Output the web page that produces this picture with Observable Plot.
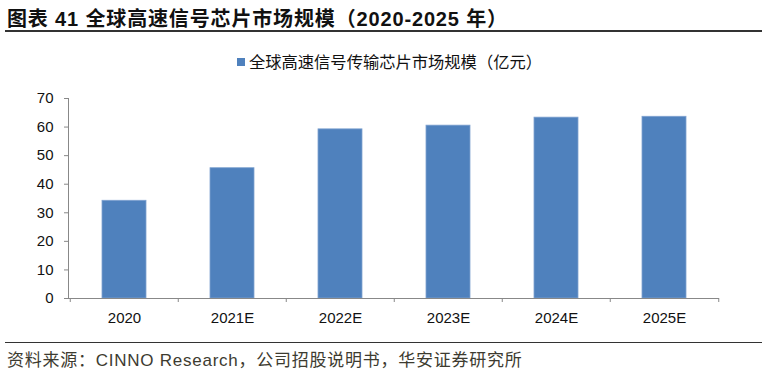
<!DOCTYPE html>
<html><head><meta charset="utf-8">
<script src="https://cdn.jsdelivr.net/npm/d3@7"></script>
<script src="https://cdn.jsdelivr.net/npm/@observablehq/plot@0.6"></script>
<style>
body{margin:0;background:#fff;width:767px;height:375px;position:relative;overflow:hidden;font-family:"Liberation Sans","Noto Sans CJK SC",sans-serif;}
#title{position:absolute;left:7px;top:3px;font-family:"Liberation Sans","Noto Sans CJK SC",sans-serif;font-weight:bold;font-size:20px;letter-spacing:0.85px;color:#111;white-space:nowrap;}
#tline{position:absolute;left:5px;top:30px;width:757px;height:0;border-top:2px solid #333;}
#legend{position:absolute;left:6px;width:767px;top:49px;text-align:center;font-size:16.3px;color:#111;font-family:"Liberation Sans","Noto Sans CJK SC",sans-serif;white-space:nowrap;}
#legend span.sw{display:inline-block;width:8px;height:8px;background:#4F81BD;margin-right:4px;vertical-align:2px;}
#chart{position:absolute;left:0;top:80px;}
#fline{position:absolute;left:5px;top:342px;width:757px;height:0;border-top:1.5px solid #333;}
#caption{position:absolute;left:7px;top:346px;font-size:17px;letter-spacing:0.75px;color:#3d3b30;white-space:nowrap;font-family:"Liberation Sans","Noto Sans CJK SC",sans-serif;}
</style></head>
<body>
<div id="title">图表 41 全球高速信号芯片市场规模（2020-2025 年）</div>
<div id="tline"></div>
<div id="legend"><span class="sw"></span>全球高速信号传输芯片市场规模（亿元）</div>
<div id="chart"></div>
<div id="fline"></div>
<div id="caption">资料来源：CINNO Research，公司招股说明书，华安证券研究所</div>
<script>
const years = ["2020","2021E","2022E","2023E","2024E","2025E"];
const values = [34.2, 45.6, 59.2, 60.5, 63.3, 63.6];
const yTicks = [0,10,20,30,40,50,60,70];

const data = years.map((y,i)=>({year:y, value:values[i]}));

// axis lines and between-category ticks, positioned via the plot's own scales
function axisLines(index, scales, vals, dims) {
  const x = scales.x, y = scales.y;
  const n = years.length;
  const left = dims.marginLeft, right = dims.width - dims.marginRight;
  const step = (right - left) / n;
  const g = d3.create("svg:g").attr("stroke", "#888").attr("stroke-width", 1).attr("fill", "none");
  const y0 = y(0), yTop = y(70);
  g.append("line").attr("x1", left + 0.5).attr("x2", left + 0.5).attr("y1", yTop).attr("y2", y0);
  g.append("line").attr("x1", left).attr("x2", right).attr("y1", y0 + 0.5).attr("y2", y0 + 0.5);
  const edges = years.map(c => x(c) + x.bandwidth()/2 - step/2);
  edges.push(x(years[n-1]) + x.bandwidth()/2 + step/2);
  for (const e of edges) {
    g.append("line").attr("x1", e + 0.5).attr("x2", e + 0.5).attr("y1", y0).attr("y2", y0 + 4);
  }
  return g.node();
}

const plot = Plot.plot({
  width: 767,
  height: 260,
  marginLeft: 68,
  marginRight: 48,
  marginTop: 18,
  marginBottom: 42,
  style: {fontFamily: '"Liberation Sans", Arial, sans-serif', fontSize: "15px", color: "#111", background: "#fff"},
  x: {domain: years, paddingInner: 0.595, paddingOuter: 0.2975, label: null},
  y: {domain: [0, 70], label: null},
  marks: [
    Plot.barY(data, {x: "year", y: "value", fill: "#4F81BD", stroke: "#7FA2D0", strokeWidth: 0.8}),
    Plot.axisY({ticks: yTicks, tickSize: 4, tickPadding: 11, stroke: "#888", fontSize: 15, fill: "#111"}),
    Plot.axisX({tickSize: 0, tickPadding: 14, fontSize: 15, fill: "#111"}),
    axisLines
  ]
});
document.getElementById("chart").appendChild(plot);
</script>
</body></html>
